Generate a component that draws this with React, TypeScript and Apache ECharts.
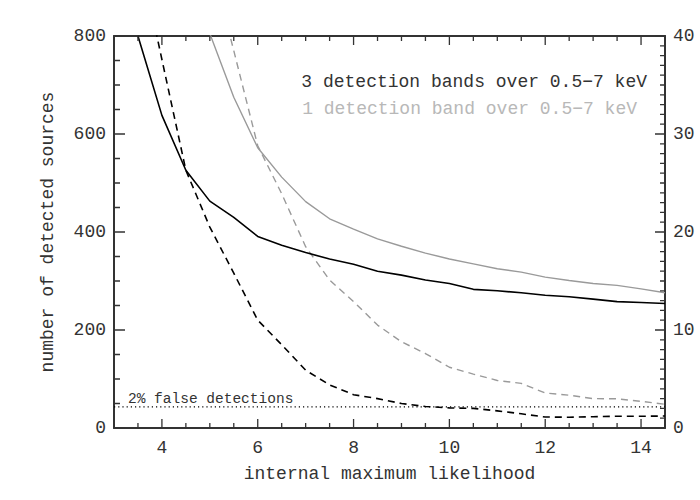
import React, { useEffect, useRef } from "react";
import * as echarts from "echarts";

// internal maximum likelihood (x)
const xValues = [3.5, 4, 4.5, 5, 5.5, 6, 6.5, 7, 7.5, 8, 8.5, 9, 9.5, 10, 10.5, 11, 11.5, 12, 12.5, 13, 13.5, 14, 14.5];

// number of detected sources (left axis)
const threeBandsDetected = [800, 638, 526, 463, 430, 391, 373, 358, 345, 334, 320, 312, 302, 295, 283, 280, 276, 271, 268, 263, 258, 256, 254];
const oneBandDetected = [null, null, null, 805, 675, 572, 512, 462, 427, 406, 386, 371, 357, 345, 335, 325, 318, 308, 301, 295, 291, 284, 276];

// false detections (right axis)
const threeBandsFalse = [49, 37.6, 26.3, 20.5, 15.8, 11.0, 8.5, 5.9, 4.4, 3.4, 3.0, 2.5, 2.2, 2.05, 2.0, 1.75, 1.45, 1.12, 1.1, 1.15, 1.2, 1.2, 1.22];
const oneBandFalse = [null, null, null, 48, 38.5, 28.8, 23.9, 18.5, 15.1, 12.9, 10.5, 8.8, 7.6, 6.2, 5.5, 4.85, 4.55, 3.57, 3.35, 3.0, 2.98, 2.72, 2.42];

// 2% false detection level (left axis units)
const falseLevel = 43;

// tick positions
const xMajorTicks = [4, 6, 8, 10, 12, 14];
const xMinorTicks = [3.5, 4.5, 5, 5.5, 6.5, 7, 7.5, 8.5, 9, 9.5, 10.5, 11, 11.5, 12.5, 13, 13.5, 14.5];
const yLeftMajorTicks = [0, 200, 400, 600, 800];
const yLeftMinorTicks = [50, 100, 150, 250, 300, 350, 450, 500, 550, 650, 700, 750];
const yRightMajorTicks = [0, 10, 20, 30, 40];
const yRightMinorTicks = [1, 2, 3, 4, 5, 6, 7, 8, 9, 11, 12, 13, 14, 15, 16, 17, 18, 19, 21, 22, 23, 24, 25, 26, 27, 28, 29, 31, 32, 33, 34, 35, 36, 37, 38, 39];

const legendThree = "3 detection bands over 0.5\u22127 keV";
const legendOne = "1 detection band over 0.5\u22127 keV";
const falseLabel = "2% false detections";

const FONT = "'Liberation Mono', 'DejaVu Sans Mono', monospace";
const FS = 18;
const TEXT = "#333";
const GRAY = "#9a9a9a";
const X_MIN = 3;
const X_MAX = 14.5;
const YL_MAX = 800;
const YR_MAX = 40;

// layout
const GRID = { left: 114, right: 35, top: 36, bottom: 72 };
const GRID_W = 700 - GRID.left - GRID.right;
const GRID_H = 500 - GRID.top - GRID.bottom;

function pairs(vals: (number | null)[]) {
  return xValues.map((x, i) => [x, vals[i]]).filter((p) => p[1] !== null);
}

function axisLine() {
  return { show: true, onZero: false, lineStyle: { color: TEXT, width: 2 } };
}

// tick marks as short segments (lengths in pixels converted through the axis scales)
function xTickSegments() {
  const unitsPerPx = YL_MAX / GRID_H;
  const out: any[] = [];
  const add = (v: number, px: number) => {
    out.push([v, 0], [v, px * unitsPerPx], null);
    out.push([v, YL_MAX], [v, YL_MAX - px * unitsPerPx], null);
  };
  xMajorTicks.forEach((v) => add(v, 9));
  xMinorTicks.forEach((v) => add(v, 5));
  return out;
}
function yTickSegments(major: number[], minor: number[], fromRight: boolean, majorPx: number, minorPx: number) {
  const unitsPerPx = (X_MAX - X_MIN) / GRID_W;
  const edge = fromRight ? X_MAX : X_MIN;
  const dir = fromRight ? -1 : 1;
  const out: any[] = [];
  const add = (v: number, px: number) => {
    out.push([edge, v], [edge + dir * px * unitsPerPx, v], null);
  };
  major.forEach((v) => add(v, majorPx));
  minor.forEach((v) => add(v, minorPx));
  return out;
}

function tickSeries(name: string, yAxisIndex: number, data: any[]) {
  return {
    type: "line",
    name,
    xAxisIndex: 0,
    yAxisIndex,
    data,
    silent: true,
    showSymbol: false,
    connectNulls: false,
    clip: false,
    lineStyle: { color: TEXT, width: 1.3 },
    z: 6,
  };
}

export default function App() {
  const ref = useRef<HTMLDivElement>(null);
  useEffect(() => {
    if (!ref.current) return;
    const chart = echarts.init(ref.current, undefined, { renderer: "svg" });

    chart.setOption({
      animation: false,
      grid: { ...GRID, containLabel: false, outerBoundsMode: "none" },
      xAxis: [
        {
          type: "value",
          min: X_MIN,
          max: X_MAX,
          position: "bottom",
          splitLine: { show: false },
          axisLine: axisLine(),
          axisTick: { show: false },
          axisLabel: { show: true, customValues: xMajorTicks, margin: 11, fontFamily: FONT, fontSize: FS, color: TEXT },
          name: "internal maximum likelihood",
          nameLocation: "middle",
          nameGap: 37,
          nameTextStyle: { fontFamily: FONT, fontSize: FS, color: TEXT },
        },
        {
          type: "value",
          min: X_MIN,
          max: X_MAX,
          position: "top",
          splitLine: { show: false },
          axisLine: axisLine(),
          axisTick: { show: false },
          axisLabel: { show: false },
        },
      ],
      yAxis: [
        {
          type: "value",
          position: "left",
          min: 0,
          max: YL_MAX,
          interval: 200,
          splitLine: { show: false },
          axisLine: axisLine(),
          axisTick: { show: false },
          minorTick: { show: false },
          axisLabel: { margin: 8, fontFamily: FONT, fontSize: FS, color: TEXT },
          name: "number of detected sources",
          nameLocation: "middle",
          nameGap: 57,
          nameRotate: 90,
          nameTextStyle: { fontFamily: FONT, fontSize: FS, color: TEXT },
        },
        {
          type: "value",
          position: "right",
          min: 0,
          max: YR_MAX,
          interval: 10,
          splitLine: { show: false },
          axisLine: axisLine(),
          axisTick: { show: false },
          minorTick: { show: false },
          axisLabel: { margin: 8, fontFamily: FONT, fontSize: FS, color: TEXT },
        },
      ],
      graphic: [
        {
          type: "text",
          right: 53,
          top: 73,
          style: { text: legendThree, font: `${FS}px ${FONT}`, fill: TEXT },
        },
        {
          type: "text",
          right: 63,
          top: 100,
          style: { text: legendOne, font: `${FS}px ${FONT}`, fill: "#b8b8b8" },
        },
        {
          type: "text",
          left: 128,
          top: 391,
          style: { text: falseLabel, font: `14.5px ${FONT}`, fill: TEXT },
        },
      ],
      series: [
        {
          type: "line",
          name: "3 bands detected",
          xAxisIndex: 0,
          yAxisIndex: 0,
          data: pairs(threeBandsDetected),
          showSymbol: false,
          clip: true,
          lineStyle: { color: "#000", width: 1.6 },
          z: 3,
        },
        {
          type: "line",
          name: "1 band detected",
          xAxisIndex: 0,
          yAxisIndex: 0,
          data: pairs(oneBandDetected),
          showSymbol: false,
          clip: true,
          lineStyle: { color: GRAY, width: 1.4 },
          z: 2,
        },
        {
          type: "line",
          name: "3 bands false",
          xAxisIndex: 0,
          yAxisIndex: 1,
          data: pairs(threeBandsFalse),
          showSymbol: false,
          clip: true,
          lineStyle: { color: "#000", width: 1.6, type: [7, 5] },
          z: 3,
        },
        {
          type: "line",
          name: "1 band false",
          xAxisIndex: 0,
          yAxisIndex: 1,
          data: pairs(oneBandFalse),
          showSymbol: false,
          clip: true,
          lineStyle: { color: GRAY, width: 1.4, type: [7, 5] },
          z: 2,
        },
        {
          type: "line",
          name: "2% false detections",
          xAxisIndex: 0,
          yAxisIndex: 0,
          data: [[X_MIN, falseLevel], [X_MAX, falseLevel]],
          silent: true,
          showSymbol: false,
          clip: true,
          lineStyle: { color: "#000", width: 1.2, type: [1.2, 3] },
          z: 2,
        },
        tickSeries("x ticks", 0, xTickSegments()),
        tickSeries("left ticks", 0, yTickSegments(yLeftMajorTicks, yLeftMinorTicks, false, 11, 6)),
        tickSeries("right ticks", 1, yTickSegments(yRightMajorTicks, yRightMinorTicks, true, 10, 5)),
      ],
    });
    return () => chart.dispose();
  }, []);
  return <div ref={ref} style={{ position: "fixed", left: 0, top: 0, width: 700, height: 500, background: "#fff" }} />;
}
